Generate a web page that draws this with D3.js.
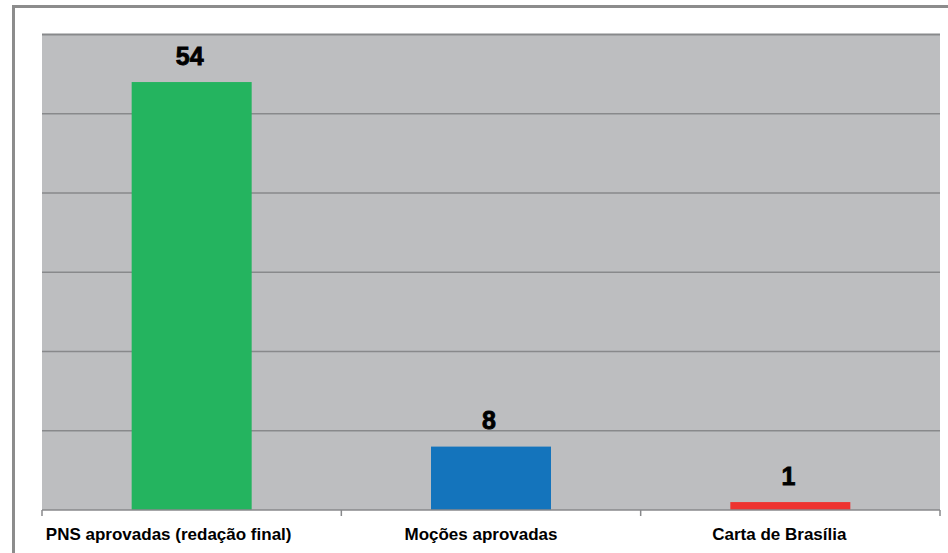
<!DOCTYPE html>
<html>
<head>
<meta charset="utf-8">
<script src="https://cdn.jsdelivr.net/npm/d3@7"></script>
<style>
  body { margin: 0; background: #fff; }
  svg { display: block; }
</style>
</head>
<body>
<script>
// data
const categories = ["PNS aprovadas (redação final)", "Moções aprovadas", "Carta de Brasília"];
const values = [54, 8, 1];
const colors = ["#24b45f", "#1474bc", "#ee3330"];
const yTicks = [0, 10, 20, 30, 40, 50, 60];

// small horizontal nudges of the category labels, as in the picture
const labelShift = [-23, -10, -11];

const W = 948, H = 553;
const svg = d3.select("body").append("svg")
    .attr("width", W)
    .attr("height", H);

// outer frame
svg.append("rect")
    .attr("x", 13.5).attr("y", 6.5)
    .attr("width", 960).attr("height", 600)
    .attr("fill", "none")
    .attr("stroke", "#8c8c8c")
    .attr("stroke-width", 3);

const plotLeft = 42, plotRight = 940, plotTop = 34.5, plotBottom = 510;

const xb = d3.scaleBand().domain(categories).range([plotLeft, plotRight]);
const y = d3.scaleLinear().domain([0, 60]).range([plotBottom, plotTop]);

// plot background
svg.append("rect")
    .attr("x", plotLeft).attr("y", plotTop)
    .attr("width", plotRight - plotLeft).attr("height", plotBottom - plotTop)
    .attr("fill", "#bdbec0");

// gridlines
svg.append("g")
    .selectAll("line")
    .data(yTicks.filter(d => d > 0))
    .enter().append("line")
    .attr("x1", plotLeft).attr("x2", plotRight)
    .attr("y1", d => y(d)).attr("y2", d => y(d))
    .attr("stroke", "#88898b")
    .attr("stroke-width", d => d === 60 ? 2 : 1.5);

// bars
svg.append("g")
    .selectAll("rect")
    .data(values)
    .enter().append("rect")
    .attr("x", (d, i) => xb(categories[i]) + xb.bandwidth() / 2 - 60)
    .attr("width", 120)
    .attr("y", d => y(d))
    .attr("height", d => plotBottom - y(d))
    .attr("fill", (d, i) => colors[i]);

// value labels
svg.append("g")
    .selectAll("text")
    .data(values)
    .enter().append("text")
    .attr("x", (d, i) => xb(categories[i]) + xb.bandwidth() / 2 - 2)
    .attr("y", d => y(d) - 17.5)
    .attr("text-anchor", "middle")
    .attr("font-family", "'Liberation Sans', Arial, sans-serif")
    .attr("font-weight", "bold")
    .attr("font-size", 25)
    .attr("fill", "#000")
    .attr("stroke", "#000")
    .attr("stroke-width", 0.8)
    .text(d => d);

// x axis
const xAxis = svg.append("g")
    .attr("transform", "translate(0," + plotBottom + ")");
xAxis.append("line")
    .attr("x1", plotLeft).attr("x2", plotRight)
    .attr("stroke", "#88898b").attr("stroke-width", 1.5);
const edges = categories.map(c => xb(c)).concat([plotRight]);
xAxis.selectAll("line.tick")
    .data(edges)
    .enter().append("line")
    .attr("class", "tick")
    .attr("x1", d => d).attr("x2", d => d)
    .attr("y1", 0).attr("y2", 6)
    .attr("stroke", "#88898b").attr("stroke-width", 1.5);
xAxis.selectAll("text")
    .data(categories)
    .enter().append("text")
    .attr("x", (d, i) => xb(d) + xb.bandwidth() / 2 + labelShift[i])
    .attr("y", 30)
    .attr("text-anchor", "middle")
    .attr("font-family", "'Liberation Sans', Arial, sans-serif")
    .attr("font-weight", "bold")
    .attr("font-size", 17)
    .attr("fill", "#000")
    .text(d => d);
</script>
</body>
</html>
